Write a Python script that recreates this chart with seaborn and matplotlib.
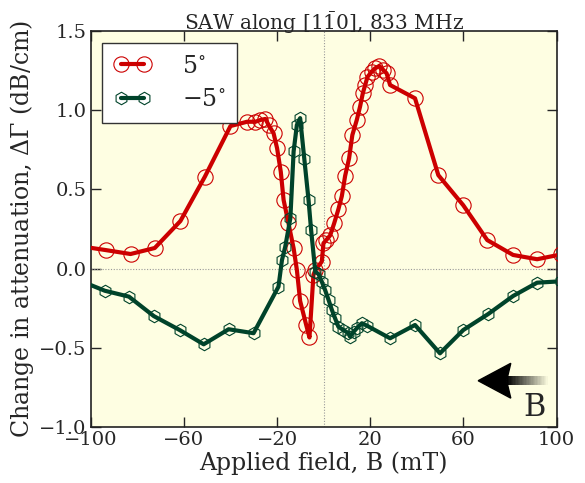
import numpy as np
import pandas as pd
import matplotlib
matplotlib.use("Agg")
import matplotlib.pyplot as plt
import seaborn as sns
from matplotlib.lines import Line2D
from matplotlib.patches import Polygon

# ---- data ----
field_pos = [-104, -93.6, -82.9, -72.5, -61.5, -51, -40, -32.9, -29.3, -27.2, -25, -23.6,
             -21.5, -20, -18.4, -17.2, -15.1, -12.9, -11.5, -10.1, -7.5, -6.1, -4.4, -3.6,
             -0.8, -0.1, 1.1, 2.8, 4.5, 6.3, 7.8, 9.2, 10.9, 12.3, 14.2, 15.6, 16.8, 17.8,
             18.8, 20.6, 22, 23.9, 25.6, 27, 28.5, 39.2, 49.2, 59.9, 70.2, 81.3, 91.6, 102]
atten_pos = [0.14, 0.117, 0.092, 0.13, 0.30, 0.58, 0.90, 0.927, 0.927, 0.938, 0.945, 0.906,
             0.854, 0.76, 0.61, 0.433, 0.286, 0.128, -0.009, -0.205, -0.356, -0.435, -0.04, -0.01,
             0.044, 0.16, 0.18, 0.21, 0.286, 0.374, 0.458, 0.585, 0.696, 0.843, 0.938, 1.022, 1.107, 1.159,
             1.21, 1.243, 1.264, 1.279, 1.254, 1.233, 1.159, 1.075, 0.59, 0.40, 0.18, 0.086, 0.059, 0.09]

field_neg = [-104, -93.9, -83.6, -72.9, -61.8, -51.5, -40.8, -30.1, -19.4, -17.9, -16.5, -14.3,
             -12.9, -11.5, -10.1, -8.3, -6.5, -5.4, -3.6, -2.2, -0.8, 0.6, 2.1, 3.5, 4.9, 6.3,
             8.5, 10.6, 11.3, 12.8, 14.2, 16.4, 18.5, 28.5, 39.2, 49.9, 59.9, 70.6, 81.3, 91.6, 102]
atten_neg = [-0.08, -0.14, -0.177, -0.30, -0.388, -0.478, -0.383, -0.408, -0.114, 0.054, 0.138, 0.318,
             0.74, 0.907, 0.95, 0.69, 0.433, 0.244, -0.02, -0.035, -0.083, -0.135, -0.198, -0.26, -0.314, -0.367,
             -0.388, -0.408, -0.43, -0.40, -0.377, -0.345, -0.36, -0.44, -0.356, -0.535, -0.388, -0.287, -0.173, -0.089, -0.08]

series_labels = [r"$5^{\circ}$", r"$-5^{\circ}$"]
x_ticks = [-100, -60, -20, 20, 60, 100]
y_ticks = [-1.0, -0.5, 0.0, 0.5, 1.0, 1.5]

df_pos = pd.DataFrame({"field": field_pos, "atten": atten_pos})
df_neg = pd.DataFrame({"field": field_neg, "atten": atten_neg})

# ---- style ----
sns.set_theme(style="ticks")
plt.rcParams["font.family"] = ["DejaVu Serif"]
plt.rcParams["mathtext.fontset"] = "dejavuserif"
plt.rcParams["axes.unicode_minus"] = True

RED = "#cc0000"
GREEN = "#00432a"
BG = "#fefee2"

fig = plt.figure(figsize=(5.85, 4.83), dpi=100)
ax = fig.add_axes([0.155, 0.116, 0.7966, 0.8198])
ax.set_facecolor(BG)

ax.axhline(0, color="#999999", lw=0.8, ls=(0, (1, 1.5)), zorder=1)
ax.axvline(0, color="#999999", lw=0.8, ls=(0, (1, 1.5)), zorder=1)

sns.lineplot(data=df_pos, x="field", y="atten", ax=ax, color=RED, lw=3, marker="o",
             ms=11, mfc="none", mec=RED, mew=0.8, estimator=None, sort=False, legend=False, zorder=3)
sns.lineplot(data=df_neg, x="field", y="atten", ax=ax, color=GREEN, lw=3, marker="h",
             ms=9, mfc="none", mec=GREEN, mew=0.8, estimator=None, sort=False, legend=False, zorder=3)

ax.set_xlim(-100, 100)
ax.set_ylim(-1.0, 1.5)
ax.set_xticks(x_ticks)
ax.set_yticks(y_ticks)
ax.set_yticklabels([f"{v:.1f}".replace("-", "\u2212") for v in y_ticks])
ax.tick_params(direction="in", length=7, width=1, top=True, right=True, labelsize=14, pad=3)
for s in ax.spines.values():
    s.set_linewidth(1.2)
    s.set_color("#222222")

ax.set_xlabel("Applied field, B (mT)", fontsize=17, labelpad=2)
ax.set_ylabel(r"Change in attenuation, $\Delta\Gamma$ (dB/cm)", fontsize=17, labelpad=2)
ax.set_title(r"SAW along [1$\bar{1}$0], 833 MHz", fontsize=14.5, pad=1)

# legend
handles = [Line2D([0], [0], color=RED, lw=3, marker="o", ms=11, mfc="none", mec=RED, mew=0.8),
           Line2D([0], [0], color=GREEN, lw=3, marker="h", ms=9, mfc="none", mec=GREEN, mew=0.8)]
leg = ax.legend(handles, series_labels, loc="upper left", numpoints=2, fontsize=17,
                handlelength=1.6, handletextpad=1.3, borderpad=0.5, labelspacing=0.45,
                borderaxespad=0, fancybox=False, framealpha=1, edgecolor="#333333",
                bbox_to_anchor=(0.024, 0.97))
leg.get_frame().set_linewidth(1.0)

# field direction arrow with fading tail
n = 30
xs = np.linspace(78.5, 96.2, n + 1)
for i in range(n):
    a = 1 - i / n
    ax.fill_between([xs[i], xs[i + 1]], -0.736, -0.680, color="black", alpha=a, lw=0, zorder=4)
ax.add_patch(Polygon([[66.3, -0.708], [80.3, -0.598], [78.5, -0.708], [80.3, -0.818]],
                     closed=True, color="black", zorder=5))
ax.text(90.6, -0.88, "B", fontsize=22, ha="center", va="center", zorder=5)

fig.savefig("out.png", dpi=100)
